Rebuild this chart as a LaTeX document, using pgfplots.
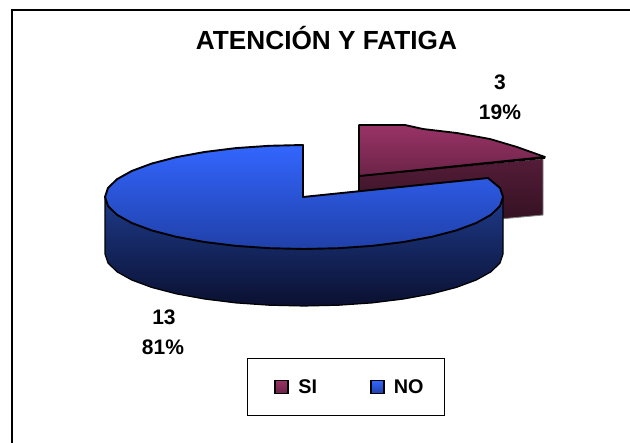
\documentclass[border=0pt]{standalone}
\usepackage{fontspec}
\setmainfont{Liberation Sans}
\usepackage{pgfplots}
\pgfplotsset{compat=1.18}
\definecolor{mtop}{HTML}{993366}
\definecolor{mbot}{HTML}{6B2347}
\definecolor{msidet}{HTML}{541C38}
\definecolor{msideb}{HTML}{2E0F1E}
\definecolor{btop}{HTML}{3366FF}
\definecolor{bbot}{HTML}{2040A8}
\definecolor{bsidet}{HTML}{1E3A8A}
\definecolor{bsideb}{HTML}{0A1030}
\begin{document}
\begin{tikzpicture}
\useasboundingbox (0,0) rectangle (630pt,443pt);
\begin{axis}[
  at={(0,0)}, anchor=south west,
  scale only axis, width=630pt, height=443pt,
  xmin=0, xmax=630, ymin=0, ymax=443, y dir=reverse,
  axis lines=none, clip=true,
  legend columns=2,
  legend image code/.code={\path (-10pt,0pt); \draw[#1] (0pt,-6.5pt) rectangle (13pt,6.5pt);},
  legend style={at={(axis cs:346,387)}, anchor=center, draw=black, line width=1.6pt,
    font=\bfseries\fontsize{19.8}{23}\selectfont,
    inner xsep=17pt, inner ysep=19pt,
    /tikz/every odd column/.append style={column sep=5pt},
    /tikz/every even column/.append style={column sep=39pt},
    nodes={inner xsep=4pt}},
]
% frame
\addplot[forget plot, black, line width=2pt] coordinates {(12,443) (12,10) (630,10)};
% SI side
\addplot[forget plot, draw=none, top color=msidet, bottom color=msideb] coordinates {(359,176) (543,159) (543,215) (359,232)} --cycle;
\addplot[forget plot, black, line width=1.6pt] coordinates {(359,191) (359,176) (545,158)};
\addplot[forget plot, color=gray, line width=0.9pt] coordinates {(543,159) (543,215) (500,219)};
% SI top
\addplot[forget plot, draw=black, line width=1.8pt, line join=round, top color=mtop, bottom color=mbot] coordinates {(359,176) (359,125) (405,125) (423,129) (457,133) (490,139) (517,147) (545,157)} --cycle;
% NO side
\addplot[forget plot, draw=black, line width=1.2pt, line join=round, top color=bsidet, bottom color=bsideb] coordinates {
 (105,197) (105,254) (108,263) (117,271.8) (131.7,280) (151.6,287.4) (176.1,293.8) (204.5,299) (235.9,302.9) (269.4,305.2) (304,306) (338.6,305.2) (372.1,302.9) (403.5,299) (431.9,293.8) (456.4,287.4) (476.3,280) (491,271.8) (500,263) (503,254) (503,197)} --cycle;
% NO top
\addplot[forget plot, draw=black, line width=1.9pt, line join=round, top color=btop, bottom color=bbot] coordinates {
 (303,197) (303,145) (269.4,145.8) (235.9,148.1) (204.5,152) (176.1,157.2) (151.6,163.6) (131.7,171) (117,179.2) (108,188) (105,197) (108,206) (117,214.8) (131.7,223) (151.6,230.4) (176.1,236.8) (204.5,242) (235.9,245.9) (269.4,248.2) (304,249) (338.6,248.2) (372.1,245.9) (403.5,242) (431.9,236.8) (456.4,230.4) (476.3,223) (491,214.8) (500,206) (503,197) (500,188) (488,178)} --cycle;
% legend
\addlegendimage{draw=black, line width=1.8pt, top color=mtop, bottom color=mbot}
\addlegendentry{SI}
\addlegendimage{draw=black, line width=1.8pt, top color=btop, bottom color=bbot}
\addlegendentry{NO}
% texts
\node[font=\bfseries\fontsize{26.2}{30}\selectfont] at (axis cs:326.5,38.5) {ATENCIÓN Y FATIGA};
\node[font=\bfseries\fontsize{21}{25}\selectfont] at (axis cs:500,82) {3};
\node[font=\bfseries\fontsize{21}{25}\selectfont] at (axis cs:500,112) {19\%};
\node[font=\bfseries\fontsize{21}{25}\selectfont] at (axis cs:164,317) {13};
\node[font=\bfseries\fontsize{21}{25}\selectfont] at (axis cs:163,347) {81\%};
\end{axis}
\end{tikzpicture}
\end{document}
